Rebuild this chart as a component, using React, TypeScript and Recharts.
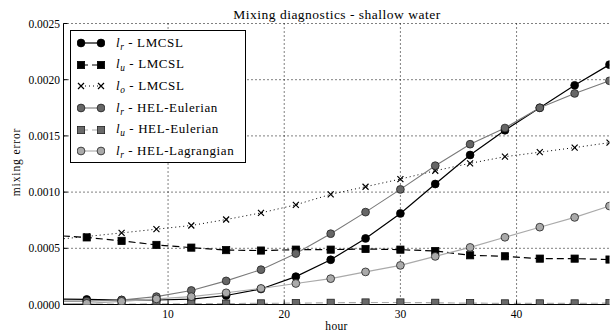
import React from 'react';
import { LineChart, Line, XAxis, YAxis, CartesianGrid, Legend } from 'recharts';

const hours = [0, 3, 6, 9, 12, 15, 18, 21, 24, 27, 30, 33, 36, 39, 42, 45, 48];
const lrLMCSL = [0.00005, 0.000045, 0.00004, 0.00004, 0.000048, 0.00008, 0.000138, 0.000248, 0.000398, 0.000588, 0.00081, 0.001072, 0.00133, 0.00155, 0.00175, 0.00195, 0.002134];
const luLMCSL = [0.000615, 0.000597, 0.000566, 0.00053, 0.000506, 0.000484, 0.00048, 0.000488, 0.000488, 0.000494, 0.000488, 0.000476, 0.000438, 0.000429, 0.000408, 0.000408, 0.0004];
const loLMCSL = [0.000575, 0.000605, 0.000637, 0.00067, 0.000703, 0.000756, 0.000815, 0.000887, 0.00098, 0.001048, 0.001116, 0.00119, 0.001256, 0.001315, 0.001355, 0.001396, 0.00144];
const lrHELEul = [0.00003, 0.00003, 0.00004, 0.00007, 0.000125, 0.00021, 0.00031, 0.000453, 0.00063, 0.000822, 0.001024, 0.001235, 0.001426, 0.00157, 0.00175, 0.001878, 0.00199];
const luHELEul = [0.000002, 0.000003, 0.000004, 0.000005, 0.000007, 0.000008, 0.00001, 0.000012, 0.000015, 0.000018, 0.000018, 0.000015, 0.000012, 0.00001, 0.00001, 0.00001, 0.000012];
const lrHELLag = [0.000005, 0.00001, 0.000028, 0.00005, 0.00007, 0.000104, 0.000143, 0.000187, 0.00023, 0.00029, 0.000348, 0.000428, 0.000508, 0.000598, 0.000688, 0.000775, 0.000876];

const xTicks = [10, 20, 30, 40];
const yTicks = [0, 0.0005, 0.001, 0.0015, 0.002, 0.0025];
const title = 'Mixing diagnostics - shallow water';
const xLabel = 'hour';
const yLabel = 'mixing error';

const data = hours.map((h, i) => ({
  hour: h,
  lrLMCSL: lrLMCSL[i],
  luLMCSL: luLMCSL[i],
  loLMCSL: loLMCSL[i],
  lrHELEul: lrHELEul[i],
  luHELEul: luHELEul[i],
  lrHELLag: lrHELLag[i],
}));

type Kind = 'circle' | 'square' | 'cross';
interface S {
  key: string;
  sub: string;
  name: string;
  stroke: string;
  width: number;
  dash?: string;
  marker: Kind;
  fill: string;
  edge: string;
}

const series: S[] = [
  { key: 'lrLMCSL', sub: 'r', name: 'LMCSL', stroke: '#000', width: 1.2, marker: 'circle', fill: '#000', edge: '#000' },
  { key: 'luLMCSL', sub: 'u', name: 'LMCSL', stroke: '#000', width: 1.2, dash: '7 4', marker: 'square', fill: '#000', edge: '#000' },
  { key: 'loLMCSL', sub: 'o', name: 'LMCSL', stroke: '#000', width: 1, dash: '1 3', marker: 'cross', fill: '#000', edge: '#000' },
  { key: 'lrHELEul', sub: 'r', name: 'HEL-Eulerian', stroke: '#7a7a7a', width: 1.1, marker: 'circle', fill: '#666', edge: '#222' },
  { key: 'luHELEul', sub: 'u', name: 'HEL-Eulerian', stroke: '#aaa', width: 1.2, dash: '7 4', marker: 'square', fill: '#6a6a6a', edge: '#222' },
  { key: 'lrHELLag', sub: 'r', name: 'HEL-Lagrangian', stroke: '#aaa', width: 1.1, marker: 'circle', fill: '#aaa', edge: '#222' },
];

const FONT = "'Liberation Serif', 'Times New Roman', serif";

function Marker({ kind, cx, cy, fill, edge }: { kind: Kind; cx: number; cy: number; fill: string; edge: string }) {
  if (kind === 'circle') return <circle cx={cx} cy={cy} r={3.9} fill={fill} stroke={edge} strokeWidth={0.8} />;
  if (kind === 'square') return <rect x={cx - 3.6} y={cy - 3.6} width={7.2} height={7.2} fill={fill} stroke={edge} strokeWidth={0.8} />;
  return (
    <path
      d={`M${cx - 3},${cy - 3}L${cx + 3},${cy + 3}M${cx - 3},${cy + 3}L${cx + 3},${cy - 3}`}
      stroke={edge}
      strokeWidth={1.2}
      fill="none"
    />
  );
}

function LegendBox() {
  return (
    <div
      style={{
        width: 176,
        height: 133,
        boxSizing: 'border-box',
        border: '1px solid #000',
        background: '#fff',
        paddingTop: 1.5,
        fontFamily: FONT,
        fontSize: 13,
        letterSpacing: 0.6,
        color: '#000',
      }}
    >
      {series.map((s) => (
        <div key={s.key} style={{ height: 21.6, display: 'flex', alignItems: 'center', whiteSpace: 'nowrap' }}>
          <svg width={28} height={12} style={{ marginLeft: 6, display: 'block' }}>
            <line x1={4} y1={6} x2={24} y2={6} stroke={s.stroke} strokeWidth={s.width} strokeDasharray={s.dash} />
            <Marker kind={s.marker} cx={4} cy={6} fill={s.fill} edge={s.edge} />
            <Marker kind={s.marker} cx={24} cy={6} fill={s.fill} edge={s.edge} />
          </svg>
          <span style={{ marginLeft: 11, lineHeight: '14px' }}>
            <i>l</i>
            <span style={{ fontSize: '0.72em', fontStyle: 'italic', position: 'relative', top: 3 }}>{s.sub}</span>
            {' - ' + s.name}
          </span>
        </div>
      ))}
    </div>
  );
}

export default function App() {
  return (
    <div style={{ position: 'absolute', left: 0, top: 0, width: 614, height: 334, background: '#fff' }}>
      <LineChart
        width={614}
        height={334}
        data={data}
        margin={{ top: 23.5, right: 4.5, bottom: 0, left: -0.5 }}
        style={{ fontFamily: FONT }}
      >
        <CartesianGrid stroke="#000" strokeWidth={1} strokeDasharray="1 3" horizontalValues={yTicks} verticalValues={xTicks} />
        <XAxis
          dataKey="hour"
          type="number"
          domain={[1, 48]}
          allowDataOverflow
          ticks={xTicks}
          height={29.5}
          stroke="#000"
          tickSize={-4}
          tickMargin={9.5}
          tick={{ fill: '#000', fontSize: 11.5, fontFamily: FONT }}
          label={{
            content: (p: any) => (
              <text x={p.viewBox.x + p.viewBox.width / 2} y={329.5} textAnchor="middle" fontSize={11.5} letterSpacing={0.3} fontFamily={FONT} fill="#000">
                {xLabel}
              </text>
            ),
          }}
        />
        <XAxis
          xAxisId="top"
          orientation="top"
          dataKey="hour"
          type="number"
          domain={[1, 48]}
          allowDataOverflow
          ticks={xTicks}
          height={0}
          stroke="#000"
          tickSize={-4}
          tickFormatter={() => ''}
        />
        <YAxis
          type="number"
          domain={[0, 0.0025]}
          allowDataOverflow
          ticks={yTicks}
          width={64}
          stroke="#000"
          tickSize={-4}
          tickMargin={7.5}
          tickFormatter={(v: number) => v.toFixed(4)}
          tick={{ fill: '#000', fontSize: 11.5, fontFamily: FONT }}
          label={{
            content: (p: any) => {
              const cy = p.viewBox.y + p.viewBox.height / 2 - 2;
              return (
                <g>
                  <text x={16} y={cy} transform={`rotate(-90, 16, ${cy})`} textAnchor="middle" dominantBaseline="central" fontSize={11.5} letterSpacing={0.9} fontFamily={FONT} fill="#000">
                    {yLabel}
                  </text>
                  <text x={337} y={18.5} textAnchor="middle" fontSize={13.5} letterSpacing={0.5} fontFamily={FONT} fill="#000">
                    {title}
                  </text>
                </g>
              );
            },
          }}
        />
        <YAxis
          yAxisId="right"
          orientation="right"
          type="number"
          domain={[0, 0.0025]}
          allowDataOverflow
          ticks={yTicks}
          width={0}
          stroke="#000"
          tickSize={-4}
          tickFormatter={() => ''}
        />
        {series.map((s) => (
          <Line
            key={s.key}
            dataKey={s.key}
            type="linear"
            stroke={s.stroke}
            strokeWidth={s.width}
            strokeDasharray={s.dash}
            isAnimationActive={false}
            activeDot={false}
            dot={(p: any) =>
              p.cx == null || p.cy == null ? (
                <g key={`${s.key}-${p.index}`} />
              ) : (
                <Marker key={`${s.key}-${p.index}`} kind={s.marker} cx={p.cx} cy={p.cy} fill={s.fill} edge={s.edge} />
              )
            }
          />
        ))}
        <Legend layout="vertical" align="center" verticalAlign="middle" wrapperStyle={{ left: 70, top: 30, width: 176, height: 133 }} content={() => <LegendBox />} />
      </LineChart>
    </div>
  );
}
